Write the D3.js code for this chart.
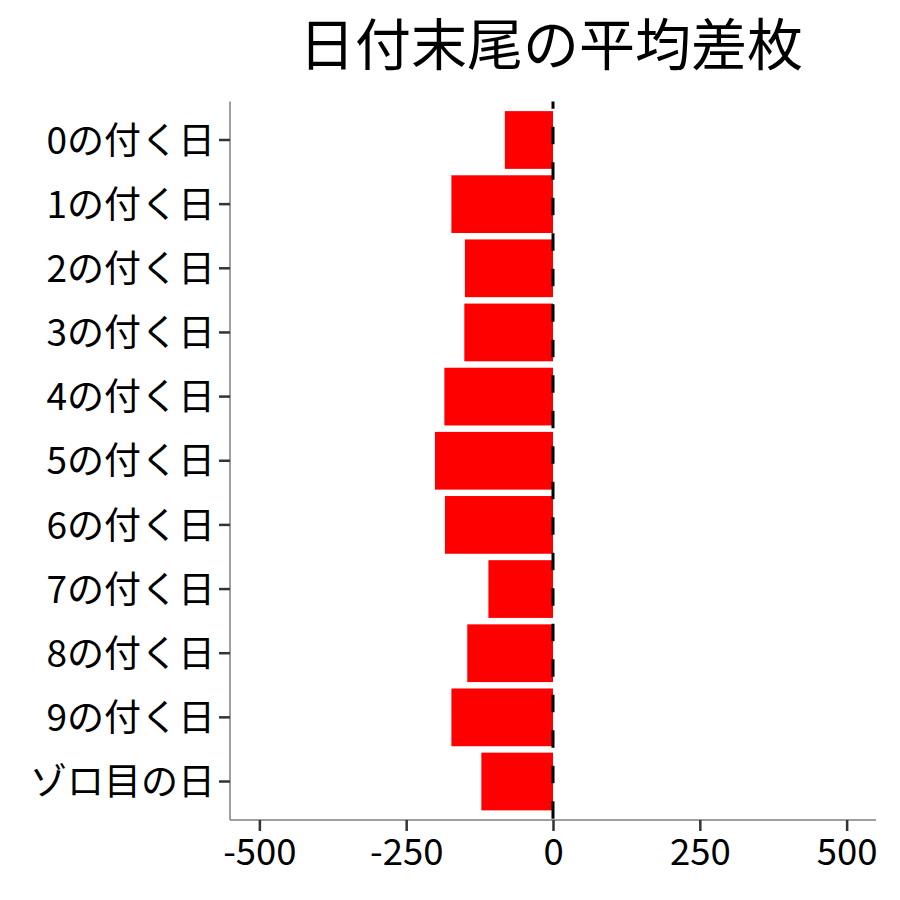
<!DOCTYPE html>
<html>
<head>
<meta charset="utf-8">
<script src="https://cdn.jsdelivr.net/npm/d3@7"></script>
<style>
  body { margin: 0; background: #fff; }
  text { font-family: "Noto Sans CJK JP", "Noto Sans", sans-serif; fill: #000; }
</style>
</head>
<body>
<svg id="chart" width="900" height="900"></svg>
<script>
// ---------------- data ----------------
var categories = ["0の付く日", "1の付く日", "2の付く日", "3の付く日", "4の付く日",
                  "5の付く日", "6の付く日", "7の付く日", "8の付く日", "9の付く日", "ゾロ目の日"];
var avgDiff = [-82, -173, -150, -151, -185, -201, -184, -110, -146, -173, -122];
var xTicks = [-500, -250, 0, 250, 500];
var title = "日付末尾の平均差枚";

var svg = d3.select("#chart");

// panel edges
var pLeft = 230, pRight = 876, pTop = 101.5, pBottom = 820;

var x = d3.scaleLinear()
    .domain([-550, 550])
    .range([pLeft, pRight]);

var y = d3.scaleBand()
    .domain(categories)
    .range([pTop, pBottom])
    .paddingInner(0.1)
    .paddingOuter(0.15);

// bars
svg.append("g")
    .selectAll("rect")
    .data(avgDiff)
    .enter().append("rect")
    .attr("x", function(d) { return x(Math.min(0, d)); })
    .attr("y", function(d, i) { return y(categories[i]); })
    .attr("width", function(d) { return Math.abs(x(d) - x(0)); })
    .attr("height", y.bandwidth())
    .attr("fill", "#ff0000");

// zero line (dashed)
svg.append("line")
    .attr("x1", x(0)).attr("x2", x(0))
    .attr("y1", pTop).attr("y2", pBottom)
    .attr("stroke", "#000")
    .attr("stroke-width", 3)
    .attr("stroke-dasharray", "17.5,18")
    .attr("stroke-dashoffset", 10.3);

// x axis
var xAxis = svg.append("g")
    .attr("transform", "translate(0," + pBottom + ")")
    .call(d3.axisBottom(x).tickValues(xTicks).tickSize(11).tickPadding(8)
        .tickFormat(function(d) { return String(d); }));
xAxis.select(".domain").attr("stroke", "#7f7f7f").attr("stroke-width", 1.5)
    .attr("d", "M" + pLeft + ",0H" + pRight);
xAxis.selectAll(".tick line").attr("stroke", "#333").attr("stroke-width", 2.5);
xAxis.selectAll(".tick text").attr("font-size", 36.5).attr("fill", "#000")
    .style("font-family", "'Noto Sans CJK JP'");

// y axis
var yAxis = svg.append("g")
    .attr("transform", "translate(" + pLeft + ",0)")
    .call(d3.axisLeft(y).tickSize(11).tickPadding(4));
yAxis.select(".domain").attr("stroke", "#7f7f7f").attr("stroke-width", 1.5)
    .attr("d", "M0," + pTop + "V" + pBottom);
yAxis.selectAll(".tick line").attr("stroke", "#333").attr("stroke-width", 2.5);
yAxis.selectAll(".tick text").attr("font-size", 37).attr("fill", "#000")
    .attr("dy", "0.37em")
    .style("font-family", "'Noto Sans CJK JP'");

// title
svg.append("text")
    .attr("x", (pLeft + pRight) / 2 - 2)
    .attr("y", 65)
    .attr("text-anchor", "middle")
    .attr("font-size", 56)
    .text(title);
</script>
</body>
</html>
